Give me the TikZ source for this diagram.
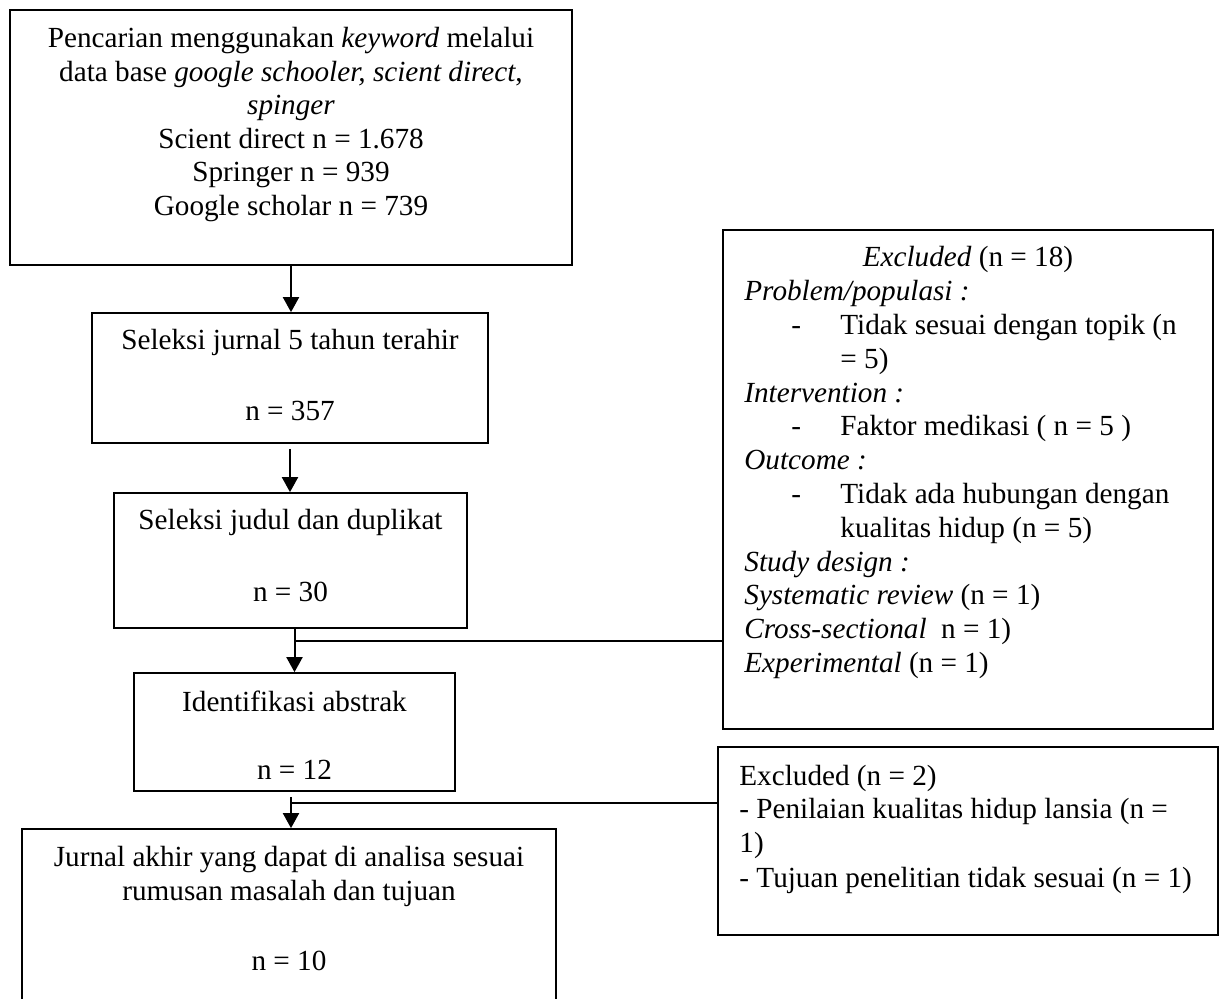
\documentclass[tikz,border=0pt]{standalone}
\usepackage{fontspec}
\setmainfont{Liberation Serif}
\usetikzlibrary{arrows.meta}
\begin{document}
\begin{tikzpicture}[x=0.5pt,y=-0.5pt,
  box/.style={draw,line width=0.85pt,rectangle,inner sep=0pt},
  txt/.style={inner sep=0pt,font=\fontsize{14.6pt}{16.8pt}\selectfont},
  ctr/.style={txt,anchor=base},
  lft/.style={txt,anchor=base west},
  arr/.style={line width=1pt,-{Triangle[width=8pt,length=7.5pt]}},
  link/.style={line width=0.75pt}]
\clip (0,0) rectangle (1227,999);
\fill[white] (0,0) rectangle (1227,999);
% boxes
\node[box,minimum width=281pt,minimum height=127.5pt] (b1) at (291,137.5) {};
\node[box,minimum width=198pt,minimum height=65pt] (b2) at (290,378) {};
\node[box,minimum width=176.5pt,minimum height=67.5pt] (b3) at (290.5,560.5) {};
\node[box,minimum width=160.5pt,minimum height=59pt] (b4) at (294.5,732) {};
\node[box,minimum width=267pt,minimum height=90.5pt] (b5) at (289,919.5) {};
\node[box,minimum width=245pt,minimum height=249.5pt] (ex1) at (968,479.5) {};
\node[box,minimum width=250pt,minimum height=94pt] (ex2) at (968,841) {};
% box 1 text
\node[ctr] (t11) at (291,48) {Pencarian menggunakan \textit{keyword} melalui};
\node[ctr] (t12) at (291,81.5) {data base \textit{google schooler, scient direct},};
\node[ctr] (t13) at (291,115) {\textit{spinger}};
\node[ctr] (t14) at (291,148.5) {Scient direct n = 1.678};
\node[ctr] (t15) at (291,182) {Springer n = 939};
\node[ctr] (t16) at (291,215.5) {Google scholar n = 739};
% box 2-5 text
\node[ctr] (t21) at (290,350) {Seleksi jurnal 5 tahun terahir};
\node[ctr] (t22) at (290,421) {n = 357};
\node[ctr] (t31) at (290.5,530) {Seleksi judul dan duplikat};
\node[ctr] (t32) at (290.5,602) {n = 30};
\node[ctr] (t41) at (294.5,712) {Identifikasi abstrak};
\node[ctr] (t42) at (294.5,780) {n = 12};
\node[ctr] (t51) at (289,866) {Jurnal akhir yang dapat di analisa sesuai};
\node[ctr] (t52) at (289,900) {rumusan masalah dan tujuan};
\node[ctr] (t53) at (289,970) {n = 10};
% excluded box 1
\node[ctr] (e0) at (968,267) {\textit{Excluded} (n = 18)};
\node[lft] (e1) at (744,300.8) {\textit{Problem/populasi :}};
\node[lft] (d2) at (791,334.6) {-};
\node[lft] (e2) at (840,334.6) {Tidak sesuai dengan topik (n};
\node[lft] (e3) at (840,368.4) {= 5)};
\node[lft] (e4) at (744,402.2) {\textit{Intervention :}};
\node[lft] (d5) at (791,436) {-};
\node[lft] (e5) at (840,436) {Faktor medikasi ( n = 5 )};
\node[lft] (e6) at (744,469.8) {\textit{Outcome :}};
\node[lft] (d7) at (791,503.6) {-};
\node[lft] (e7) at (840,503.6) {Tidak ada hubungan dengan};
\node[lft] (e8) at (840,537.4) {kualitas hidup (n = 5)};
\node[lft] (e9) at (744,571.2) {\textit{Study design :}};
\node[lft] (e10) at (744,605) {\textit{Systematic review} (n = 1)};
\node[lft] (e11) at (744,638.8) {\textit{Cross-sectional}\ \ n = 1)};
\node[lft] (e12) at (744,672.6) {\textit{Experimental} (n = 1)};
% excluded box 2
\node[lft] (f1) at (739,785) {Excluded (n = 2)};
\node[lft] (f2) at (739,819) {- Penilaian kualitas hidup lansia (n =};
\node[lft] (f3) at (739,853) {1)};
\node[lft] (f4) at (739,887) {- Tujuan penelitian tidak sesuai (n = 1)};
% arrows
\draw[arr] (b1.south) -- (b1.south |- b2.north);
\draw[arr,shorten <=2.5pt] (b2.south) -- (b2.south |- b3.north);
\draw[arr] (b4.north |- b3.south) -- (b4.north);
\draw[arr,shorten <=2.5pt] ([xshift=1pt]b5.north |- b4.south) -- ([xshift=1pt]b5.north);
% side links
\coordinate (j1) at (294.5,641);
\coordinate (j2) at (291,803);
\draw[link] (j1) -- (j1 -| ex1.west);
\draw[link] (j2) -- (j2 -| ex2.west);
\end{tikzpicture}
\end{document}
